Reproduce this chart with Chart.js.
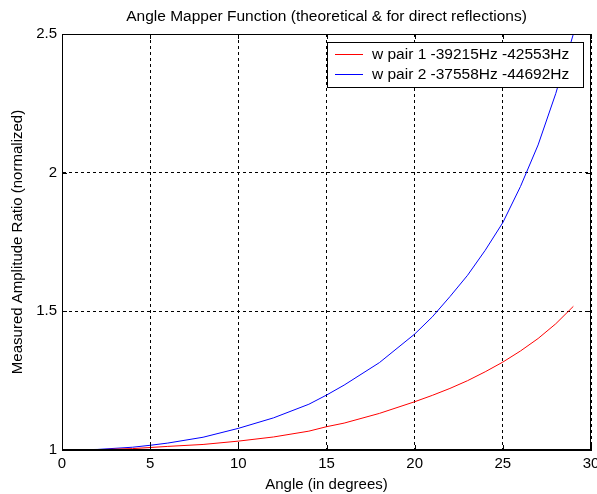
<!DOCTYPE html>
<html>
<head>
<meta charset="utf-8">
<script src="https://cdn.jsdelivr.net/npm/chart.js@4/dist/chart.umd.min.js"></script>
<style>
  html, body { margin: 0; padding: 0; background: #fff; }
  #wrap { width: 597px; height: 494px; position: relative; }
</style>
</head>
<body>
<div id="wrap"><canvas id="c" width="597" height="494"></canvas></div>
<script>
// ---- Data ----
const pair1Angles = [0.5, 2, 4, 5, 6, 8, 10, 12, 14, 15, 16, 18, 20, 21, 22, 23, 24, 25, 26, 27, 28, 29];
const pair1Values = [1.000, 1.001, 1.005, 1.009, 1.013, 1.020, 1.032, 1.047, 1.068, 1.084, 1.097, 1.132, 1.174, 1.197, 1.222, 1.250, 1.282, 1.317, 1.357, 1.402, 1.455, 1.518];
const pair2Angles = [0, 2, 4, 5, 6, 8, 10, 12, 14, 15, 16, 18, 20, 21, 22, 23, 24, 25, 26, 27, 28, 29];
const pair2Values = [1.000, 1.002, 1.010, 1.017, 1.025, 1.046, 1.078, 1.116, 1.165, 1.198, 1.234, 1.315, 1.418, 1.480, 1.553, 1.630, 1.720, 1.820, 1.950, 2.100, 2.285, 2.500];
const seriesLabels = ['w pair 1 -39215Hz -42553Hz', 'w pair 2 -37558Hz -44692Hz'];
const seriesColors = ['#ff0000', '#0000ff'];
const xTicks = [0, 5, 10, 15, 20, 25, 30];
const yTicks = [1, 1.5, 2, 2.5];
const titleText = 'Angle Mapper Function (theoretical & for direct reflections)';
const xTitle = 'Angle (in degrees)';
const yTitle = 'Measured Amplitude Ratio (normalized)';

const FONT = "'Liberation Sans', Arial, sans-serif";

function toPoints(xs, ys) { return xs.map((x, i) => ({ x: x, y: ys[i] })); }

// Title centred over the axes, frame, inward tick marks, boxed legend (MATLAB style)
const matlabDecor = {
  id: 'matlabDecor',
  afterDatasetsDraw(chart) {
    const { ctx, chartArea: a, scales } = chart;
    ctx.save();
    ctx.strokeStyle = '#000';
    ctx.lineWidth = 1;
    ctx.setLineDash([]);
    ctx.strokeRect(Math.round(a.left) + 0.5, Math.round(a.top) + 0.5,
                   Math.round(a.right - a.left) - 1, Math.round(a.bottom - a.top) - 1);
    const tl = 5;
    ctx.beginPath();
    xTicks.forEach(v => {
      const px = Math.round(scales.x.getPixelForValue(v)) + 0.5;
      ctx.moveTo(px, a.bottom); ctx.lineTo(px, a.bottom - tl);
      ctx.moveTo(px, a.top); ctx.lineTo(px, a.top + tl);
    });
    yTicks.forEach(v => {
      const py = Math.round(scales.y.getPixelForValue(v)) + 0.5;
      ctx.moveTo(a.left, py); ctx.lineTo(a.left + tl, py);
      ctx.moveTo(a.right, py); ctx.lineTo(a.right - tl, py);
    });
    ctx.stroke();
    ctx.restore();
  },
  afterDraw(chart) {
    const { ctx, chartArea: a } = chart;
    ctx.save();
    // title
    ctx.font = '15.5px ' + FONT;
    ctx.fillStyle = '#000';
    ctx.textAlign = 'center';
    ctx.textBaseline = 'middle';
    ctx.fillText(titleText, (a.left + a.right) / 2, 17);
    // legend
    ctx.textAlign = 'left';
    let maxW = 0;
    seriesLabels.forEach(l => { maxW = Math.max(maxW, ctx.measureText(l).width); });
    const lineLen = 28, gap = 9, padL = 8, padR = 14, rowH = 20;
    const w = Math.round(padL + lineLen + gap + maxW + padR);
    const h = rowH * seriesLabels.length + 5;
    const x0 = Math.round(a.right - 8 - w);
    const y0 = Math.round(a.top + 8);
    ctx.fillStyle = '#fff';
    ctx.fillRect(x0, y0, w, h);
    ctx.strokeStyle = '#000';
    ctx.lineWidth = 1;
    ctx.strokeRect(x0 + 0.5, y0 + 0.5, w, h);
    seriesLabels.forEach((label, i) => {
      const cy = Math.round(y0 + 12 + i * rowH);
      ctx.fillStyle = seriesColors[i];
      ctx.fillRect(x0 + padL, cy, lineLen, 1);
      ctx.fillStyle = '#000';
      ctx.fillText(label, x0 + padL + lineLen + gap, cy + 1);
    });
    ctx.restore();
  }
};

new Chart(document.getElementById('c'), {
  type: 'line',
  data: {
    datasets: [
      { label: seriesLabels[0], data: toPoints(pair1Angles, pair1Values), borderColor: seriesColors[0], borderWidth: 1, pointRadius: 0, tension: 0, fill: false },
      { label: seriesLabels[1], data: toPoints(pair2Angles, pair2Values), borderColor: seriesColors[1], borderWidth: 1, pointRadius: 0, tension: 0, fill: false }
    ]
  },
  options: {
    responsive: false,
    animation: false,
    devicePixelRatio: 1,
    layout: { padding: { left: 0, right: 6, top: 34, bottom: 0 } },
    plugins: {
      legend: { display: false },
      tooltip: { enabled: false },
      title: { display: false }
    },
    scales: {
      x: {
        type: 'linear', min: 0, max: 30,
        afterBuildTicks(s) { s.ticks = xTicks.map(v => ({ value: v })); },
        afterFit(s) { s.height = 44; s.paddingRight = 0; s.paddingLeft = 0; },
        ticks: { color: '#000', font: { family: FONT, size: 15 }, padding: 5, maxRotation: 0, callback: v => String(v) },
        grid: { color: '#000', lineWidth: 1, drawTicks: false },
        border: { display: true, color: '#000', dash: [3, 3] },
        title: { display: true, text: xTitle, color: '#000', font: { family: FONT, size: 15 }, padding: { top: 2, bottom: 0 } }
      },
      y: {
        type: 'linear', min: 1, max: 2.5,
        afterBuildTicks(s) { s.ticks = yTicks.map(v => ({ value: v })); },
        afterFit(s) { s.width = 62; s.paddingTop = 0; s.paddingBottom = 0; },
        ticks: { color: '#000', font: { family: FONT, size: 15 }, padding: 5, callback: v => String(v) },
        grid: { color: '#000', lineWidth: 1, drawTicks: false },
        border: { display: true, color: '#000', dash: [3, 3] },
        title: { display: true, text: yTitle, color: '#000', font: { family: FONT, size: 15 }, padding: { top: 9, bottom: 4 } }
      }
    },
    elements: { line: { borderJoinStyle: 'round' } }
  },
  plugins: [matlabDecor]
});
</script>
</body>
</html>
